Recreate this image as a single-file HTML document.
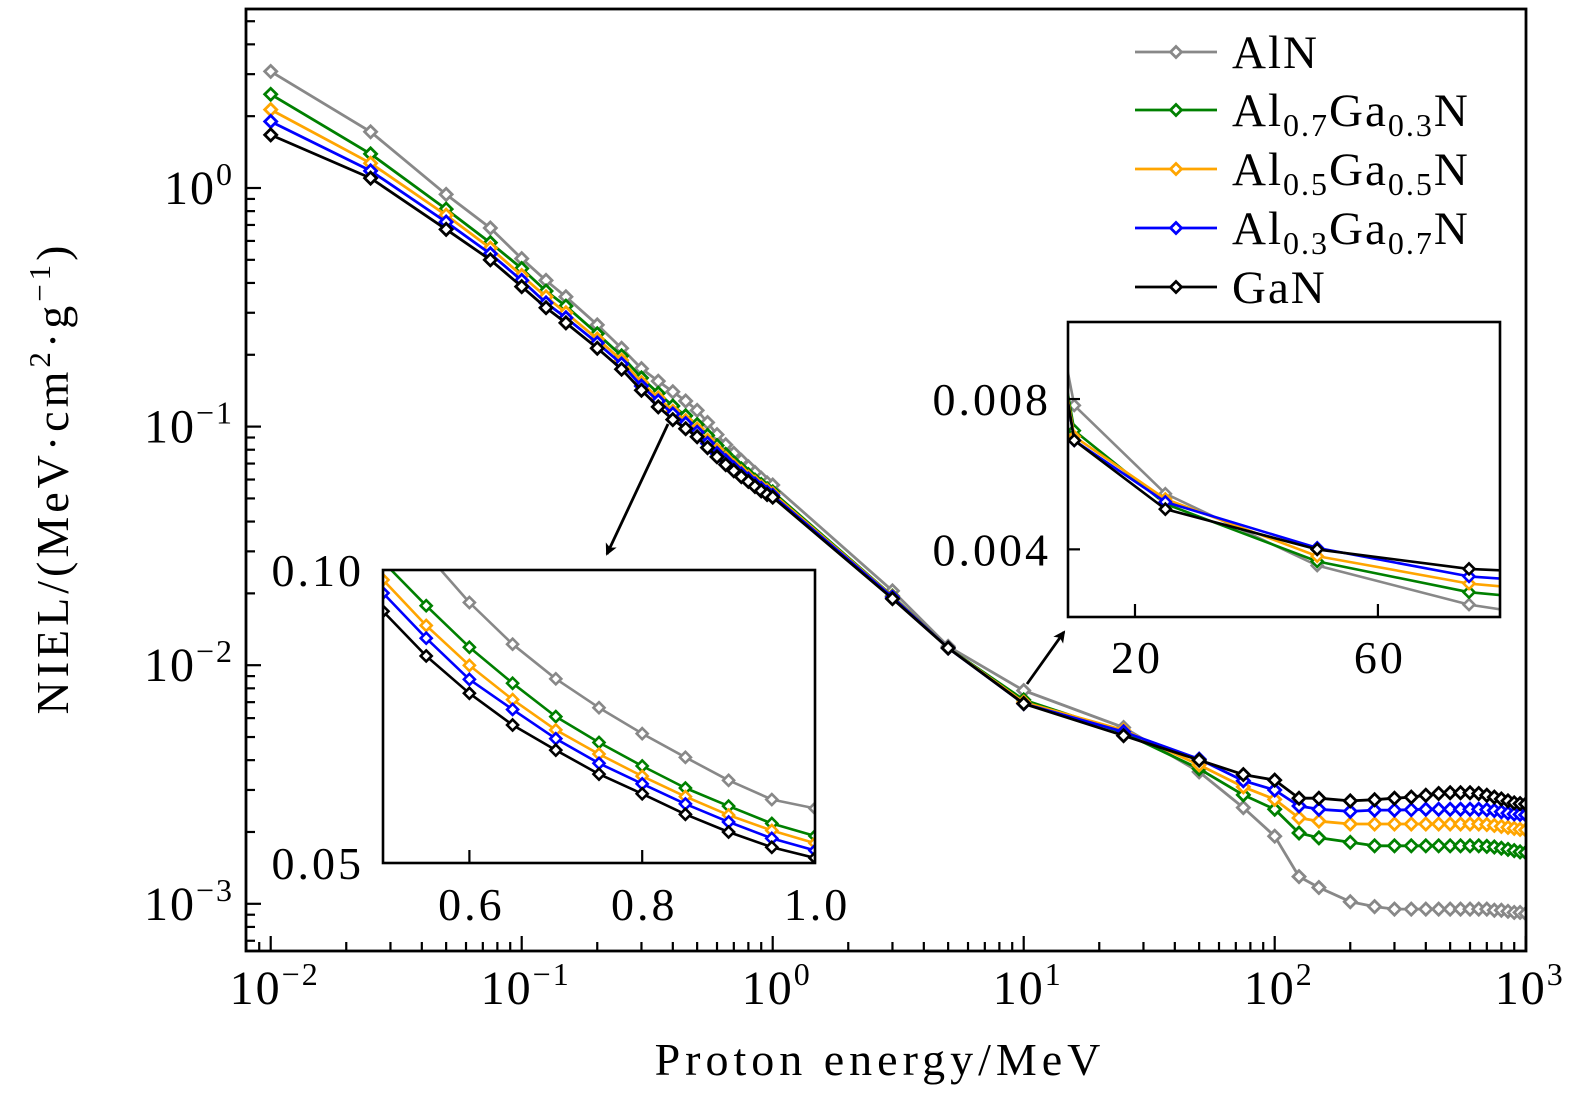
<!DOCTYPE html>
<html><head><meta charset="utf-8"><style>
html,body{margin:0;padding:0;background:#fff}
svg{display:block;font-family:"Liberation Serif","DejaVu Serif",serif}
</style></head><body>
<svg id="chart" width="1575" height="1102" viewBox="0 0 1575 1102" xmlns="http://www.w3.org/2000/svg">
<defs>
<clipPath id="cMain"><rect x="246" y="9" width="1280" height="942"/></clipPath>
<clipPath id="cIn1"><rect x="383" y="570" width="432" height="293"/></clipPath>
<clipPath id="cIn2"><rect x="1068" y="322" width="432" height="295"/></clipPath>
<marker id="ah" markerWidth="12" markerHeight="12" refX="10" refY="6" orient="auto" markerUnits="userSpaceOnUse"><path d="M0,0 L12,6 L0,12 L3,6 Z" fill="#000"/></marker>
</defs>
<g id="mainG"></g>
<text x="880" y="1075" font-size="46" text-anchor="middle" letter-spacing="5">Proton energy/MeV</text>
<text transform="translate(68,478) rotate(-90)" font-size="46" text-anchor="middle" letter-spacing="4">NIEL/(MeV·cm<tspan font-size="31" dy="-18">2</tspan><tspan dy="18">·g</tspan><tspan font-size="31" dy="-18">−1</tspan><tspan dy="18">)</tspan></text>
<line x1="668" y1="424" x2="607" y2="554" stroke="#000" stroke-width="2.8" marker-end="url(#ah)"/>
<line x1="1027" y1="684" x2="1064" y2="632" stroke="#000" stroke-width="2.8" marker-end="url(#ah)"/>
<g id="in1G"></g>
<g id="in2G"></g>
<g id="legendG"></g>
</svg>
<script>
const energies=[0.01,0.025,0.05,0.075,0.1,0.125,0.15,0.2,0.25,0.3,0.35,0.4,0.45,
0.5,0.55,0.6,0.65,0.7,0.75,0.8,0.85,0.9,0.95,1.0,
3,5,10,25,50,75,100,125,150,
200,250,300,350,400,450,500,550,600,650,700,750,800,850,900,950,1000];
const alnValues=[3.08,1.72,0.94,0.68,0.506,0.41,0.35,0.267,0.213,0.175,0.155,0.140,0.128,
0.117,0.104,0.0926,0.0839,0.0773,0.0722,0.0679,0.0642,0.0608,0.0581,0.0569,
0.0205,0.0120,0.00783,0.00548,0.00357,0.00253,0.00192,0.00130,0.00117,
0.00102,0.000973,0.00095,0.00095,0.00095,0.00095,0.00095,0.00095,0.00095,0.00095,0.00095,0.00094,0.00094,0.00093,0.00092,0.00092,0.00091];
const al7Values=[2.47,1.39,0.816,0.59,0.46,0.37,0.32,0.245,0.198,0.160,0.138,0.122,0.111,
0.102,0.0919,0.0833,0.0765,0.0707,0.0665,0.0629,0.0597,0.0572,0.0549,0.0533,
0.0195,0.0118,0.00716,0.00521,0.00368,0.00286,0.00249,0.00198,0.00189,
0.00181,0.00175,0.00175,0.00175,0.00175,0.00175,0.00175,0.00175,0.00175,0.00175,0.00174,0.00173,0.00171,0.00169,0.00167,0.00165,0.00164];
const al5Values=[2.13,1.27,0.77,0.56,0.43,0.35,0.30,0.233,0.19,0.153,0.132,0.116,0.106,
0.0977,0.0877,0.0798,0.0736,0.0685,0.0647,0.0614,0.0585,0.0560,0.0540,0.0524,
0.0194,0.0118,0.0070,0.00534,0.00382,0.00309,0.00274,0.00229,0.00222,
0.00216,0.00216,0.00216,0.00216,0.00216,0.00216,0.00216,0.00216,0.00216,0.00216,0.00215,0.00213,0.00211,0.00209,0.00207,0.00205,0.00204];
const al3Values=[1.90,1.18,0.72,0.53,0.41,0.33,0.286,0.224,0.183,0.148,0.128,0.113,0.103,
0.0947,0.0851,0.0772,0.0719,0.0671,0.0633,0.0603,0.0575,0.0551,0.0530,0.0515,
0.0193,0.0118,0.0069,0.00526,0.00404,0.00328,0.00300,0.00257,0.00249,
0.00244,0.00247,0.00247,0.00248,0.00249,0.00249,0.00249,0.00249,0.00249,0.00249,0.00248,0.00246,0.00243,0.00240,0.00238,0.00237,0.00236];
const ganValues=[1.67,1.10,0.671,0.50,0.386,0.315,0.272,0.213,0.174,0.142,0.121,0.107,0.098,
0.0907,0.0816,0.0747,0.0693,0.0653,0.0617,0.0589,0.0561,0.0538,0.0519,0.0506,
0.019,0.0118,0.0069,0.00507,0.0040,0.00348,0.00330,0.00277,0.00277,
0.00270,0.00273,0.00277,0.00280,0.00285,0.00290,0.00292,0.00292,0.00292,0.00290,0.00285,0.00280,0.00275,0.00270,0.00265,0.00263,0.00262];
const seriesNames=["AlN","Al0.7Ga0.3N","Al0.5Ga0.5N","Al0.3Ga0.7N","GaN"];
const seriesColors=["#888888","#008000","#FFA500","#0000FF","#000000"];
const seriesValues=[alnValues,al7Values,al5Values,al3Values,ganValues];
const xTickExps=[-2,-1,0,1,2,3];
const yTickExps=[0,-1,-2,-3];
const inset1XTicks=[0.6,0.8,1.0];
const inset1YTicks=[0.10,0.05];
const inset2XTicks=[20,60];
const inset2YTicks=[0.008,0.004];

const NS="http://www.w3.org/2000/svg";
function mk(tag,attrs,parent){const e=document.createElementNS(NS,tag);for(const k in attrs)e.setAttribute(k,attrs[k]);parent.appendChild(e);return e;}
const X0=246,X1=1526,Y0=9,Y1=951;
const xd=251, xRef=270.7;
function xs(v){return xRef+(Math.log10(v)+2)*xd;}
const yd=238.6, yRef=188;
function ys(v){return yRef-Math.log10(v)*yd;}
const mainG=document.getElementById('mainG');
function diamond(g,x,y,c,r,sw){
  const p=mk('path',{d:`M${x},${y-r} L${x+r},${y} L${x},${y+r} L${x-r},${y} Z`,fill:'#fff',stroke:c,'stroke-width':sw},g);
  
  
}
function drawSeries(g,xf,yf,xsArr,vals,c,clip,lw,r,filt){
  const sg=mk('g',{'clip-path':`url(#${clip})`},g);
  
  
  const pts=[];
  for(let i=0;i<xsArr.length;i++){ if(filt&&!filt(xsArr[i]))continue; pts.push([xf(xsArr[i]),yf(vals[i])]); }
  const pl=mk('polyline',{points:pts.map(p=>p[0].toFixed(1)+','+p[1].toFixed(1)).join(' '),fill:'none',stroke:c,'stroke-width':lw,'stroke-linejoin':'round'},sg);
  
  
  pts.forEach(p=>diamond(sg,p[0],p[1],c,r,lw));
}
seriesValues.forEach((vals,i)=>drawSeries(mainG,xs,ys,energies,vals,seriesColors[i],'cMain',2.8,6,null));
const fr=mk('rect',{x:X0,y:Y0,width:X1-X0,height:Y1-Y0,fill:'none',stroke:'#000','stroke-width':2.8},mainG);


for(let e=-3;e<=3;e++){
  for(let m=1;m<10;m++){
    const v=m*Math.pow(10,e); const x=xs(v);
    if(x<X0||x>X1+0.5)continue;
    const L=m===1?15:9;
    mk('line',{x1:x,y1:Y1,x2:x,y2:Y1-L,stroke:'#000','stroke-width':2.2},mainG);
  }
}
xTickExps.forEach(e=>{
  const x=xs(Math.pow(10,e));
  const t=mk('text',{x:x+4,y:1004,'font-size':48,'text-anchor':'middle','letter-spacing':2},mainG);
  
  
  t.innerHTML=`10<tspan font-size="32" dy="-19">${e<0?'−':''}${Math.abs(e)}</tspan>`;
});
for(let e=-4;e<=1;e++){
  for(let m=1;m<10;m++){
    const v=m*Math.pow(10,e); const y=ys(v);
    if(y<Y0||y>Y1)continue;
    const L=m===1?15:9;
    mk('line',{x1:X0,y1:y,x2:X0+L,y2:y,stroke:'#000','stroke-width':2.2},mainG);
  }
}
yTickExps.forEach(e=>{
  const y=ys(Math.pow(10,e));
  const t=mk('text',{x:234,y:y+16,'font-size':48,'text-anchor':'end','letter-spacing':2},mainG);
  
  
  t.innerHTML=`10<tspan font-size="32" dy="-19">${e<0?'−':''}${Math.abs(e)}</tspan>`;
});
// inset 1
const in1=document.getElementById('in1G');


const A={x0:383,x1:815,y0:570,y1:863};
mk('rect',{x:A.x0,y:A.y0,width:A.x1-A.x0,height:A.y1-A.y0,fill:'#fff'},in1);
function ix1(v){return A.x0+(v-0.5)/0.5*(A.x1-A.x0);}
function iy1(v){return A.y0+(Math.log10(0.1)-Math.log10(v))/Math.log10(2)*(A.y1-A.y0);}
seriesValues.forEach((vals,i)=>drawSeries(in1,ix1,iy1,energies,vals,seriesColors[i],'cIn1',2.6,5.5,v=>v>=0.45&&v<=1.05));
mk('rect',{x:A.x0,y:A.y0,width:A.x1-A.x0,height:A.y1-A.y0,fill:'none',stroke:'#000','stroke-width':2.6},in1);
inset1XTicks.forEach(v=>{const x=ix1(v);mk('line',{x1:x,y1:A.y1,x2:x,y2:A.y1-13,stroke:'#000','stroke-width':2.2},in1);
  const t=mk('text',{x:x+2,y:920,'font-size':46,'text-anchor':'middle','letter-spacing':3},in1);t.textContent=v.toFixed(1);
  });
inset1YTicks.forEach(v=>{const y=iy1(v);
  const t=mk('text',{x:364,y:y+16,'font-size':46,'text-anchor':'end','letter-spacing':3},in1);t.textContent=v.toFixed(2);
  });
// inset 2
const in2=document.getElementById('in2G');


const B={x0:1068,x1:1500,y0:322,y1:617,xmin:8.97,xmax:80.1,ymin:0.0022,ymax:0.01005};
mk('rect',{x:B.x0,y:B.y0,width:B.x1-B.x0,height:B.y1-B.y0,fill:'#fff'},in2);
function ix2(v){return B.x0+(v-B.xmin)/(B.xmax-B.xmin)*(B.x1-B.x0);}
function iy2(v){return B.y0+(B.ymax-v)/(B.ymax-B.ymin)*(B.y1-B.y0);}
seriesValues.forEach((vals,i)=>drawSeries(in2,ix2,iy2,energies,vals,seriesColors[i],'cIn2',2.6,5.5,v=>v>=5&&v<=100));
mk('rect',{x:B.x0,y:B.y0,width:B.x1-B.x0,height:B.y1-B.y0,fill:'none',stroke:'#000','stroke-width':2.6},in2);
inset2XTicks.forEach(v=>{const x=ix2(v);mk('line',{x1:x,y1:B.y1,x2:x,y2:B.y1-13,stroke:'#000','stroke-width':2.2},in2);
  const t=mk('text',{x:x+2,y:673,'font-size':46,'text-anchor':'middle','letter-spacing':3},in2);t.textContent=String(v);
  });
inset2YTicks.forEach(v=>{const y=iy2(v);mk('line',{x1:B.x0,y1:y,x2:B.x0+12,y2:y,stroke:'#000','stroke-width':2.2},in2);
  const t=mk('text',{x:1051,y:y+16,'font-size':46,'text-anchor':'end','letter-spacing':3},in2);t.textContent=v.toFixed(3);
  });
// legend
const lg=document.getElementById('legendG');
const rows=[52,110,169,228,287];
const labels=['AlN','Al<tspan font-size="32" dy="10">0.7</tspan><tspan dy="-10">Ga</tspan><tspan font-size="32" dy="10">0.3</tspan><tspan dy="-10">N</tspan>',
'Al<tspan font-size="32" dy="10">0.5</tspan><tspan dy="-10">Ga</tspan><tspan font-size="32" dy="10">0.5</tspan><tspan dy="-10">N</tspan>',
'Al<tspan font-size="32" dy="10">0.3</tspan><tspan dy="-10">Ga</tspan><tspan font-size="32" dy="10">0.7</tspan><tspan dy="-10">N</tspan>','GaN'];
rows.forEach((y,i)=>{
  const g=mk('g',{},lg);
  
  
  mk('line',{x1:1135,y1:y,x2:1217,y2:y,stroke:seriesColors[i],'stroke-width':2.8},g);
  diamond(g,1176,y,seriesColors[i],5.5,2.8);
  const t=mk('text',{x:1232,y:y+16,'font-size':47,'letter-spacing':2},g);
  t.innerHTML=labels[i];
});
</script>
</body></html>
